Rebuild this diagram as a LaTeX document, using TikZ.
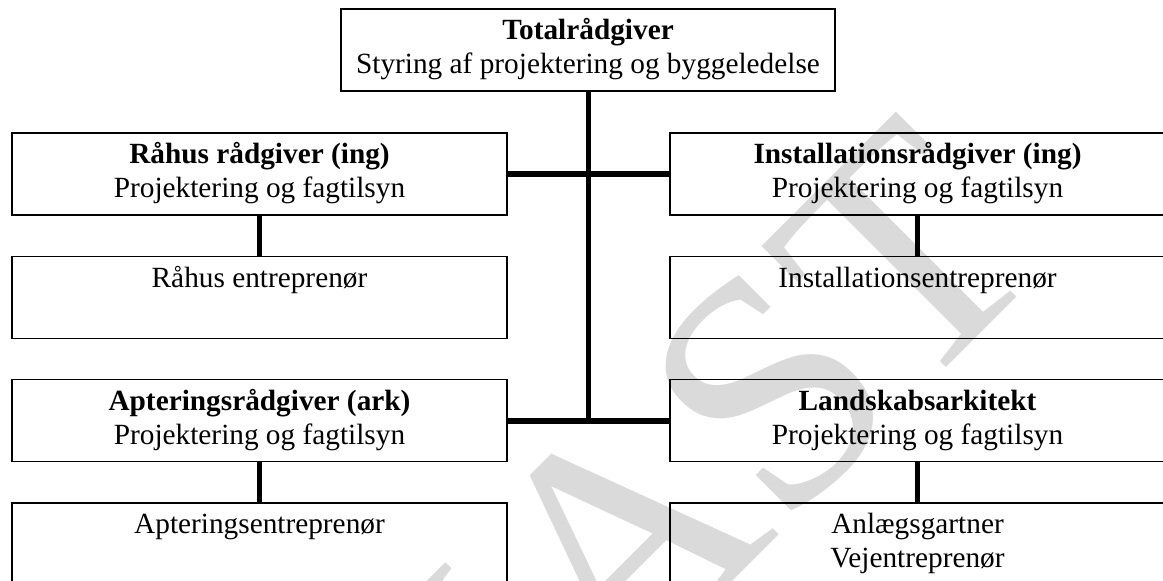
\documentclass[tikz,border=0pt]{standalone}
\usepackage{fontspec}
\setmainfont{Liberation Serif}
\definecolor{wm}{RGB}{218,218,218}
\begin{document}
\begin{tikzpicture}[x=1pt,y=-1pt,
  box/.style={draw=black, line width=1.6pt, minimum width=495pt, minimum height=82pt,
    inner sep=0pt, align=center, font=\fontsize{29.3}{34}\selectfont},
  mainline/.style={line width=5pt, black},
  crossline/.style={line width=6pt, black},
  subline/.style={line width=4.7pt, black}]
\useasboundingbox (0,0) rectangle (1163,581);
\clip (0,0) rectangle (1163,581);
\fill[white] (0,0) rectangle (1163,581);
% watermark
\node[rotate=45, anchor=base west, text=wm, inner sep=0pt,
  font=\fontsize{330}{330}\selectfont] (wmark) at (107,1207) {UDKAST};
% boxes
\node[box, minimum width=494pt] (top) at (588,50)
  {\strut\textbf{Totalrådgiver}\\\strut Styring af projektering og byggeledelse};
\node[box] (r1l) at (259.5,174) {\strut\textbf{Råhus rådgiver (ing)}\\\strut Projektering og fagtilsyn};
\node[box] (r1r) at (917.5,174) {\strut\textbf{Installationsrådgiver (ing)}\\\strut Projektering og fagtilsyn};
\node[box] (r2l) at (259.5,297.5) {\strut Råhus entreprenør\\\strut};
\node[box] (r2r) at (917.5,297.5) {\strut Installationsentreprenør\\\strut};
\node[box] (r3l) at (259.5,420.5) {\strut\textbf{Apteringsrådgiver (ark)}\\\strut Projektering og fagtilsyn};
\node[box] (r3r) at (917.5,420.5) {\strut\textbf{Landskabsarkitekt}\\\strut Projektering og fagtilsyn};
\node[box] (r4l) at (259.5,544) {\strut Apteringsentreprenør\\\strut};
\node[box] (r4r) at (917.5,544) {\strut Anlægsgartner\\\strut Vejentreprenør};
% connectors
\coordinate (junction) at (top.south |- r3l.east);
\draw[mainline] (top.south) -- (junction);
\draw[crossline] (r1l.east) -- (r1r.west);
\draw[crossline] (r3l.east) -- (r3r.west);
\draw[subline] (r1l.south) -- (r2l.north);
\draw[subline] (r1r.south) -- (r2r.north);
\draw[subline] (r3l.south) -- (r4l.north);
\draw[subline] (r3r.south) -- (r4r.north);
\end{tikzpicture}
\end{document}
